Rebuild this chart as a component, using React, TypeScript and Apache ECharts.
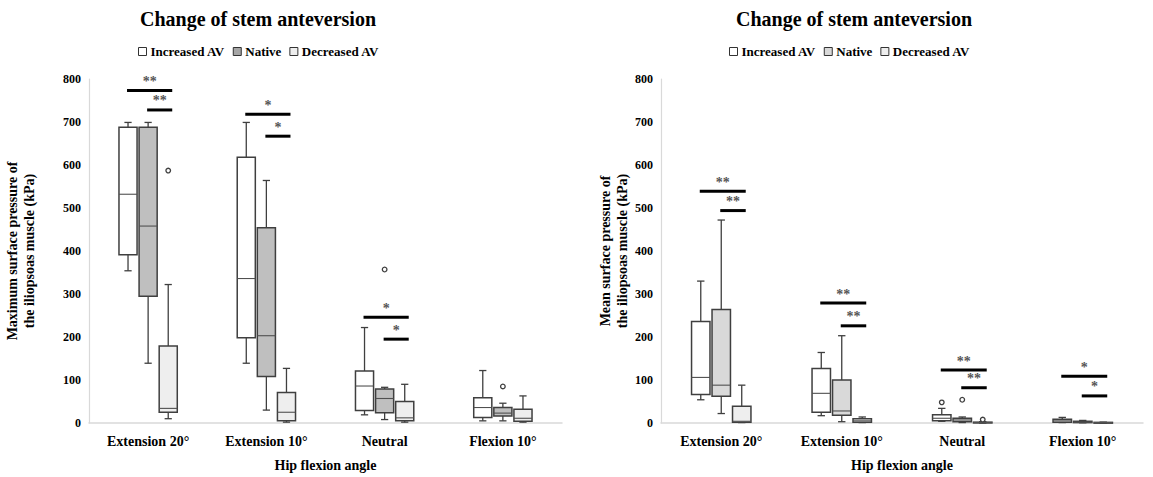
import React, { useEffect, useRef } from "react";
import * as echarts from "echarts";

const categories = ["Extension 20°", "Extension 10°", "Neutral", "Flexion 10°"];
const groups = ["Increased AV", "Native", "Decreased AV"];
const yTickMax = 800;
const yTickStep = 100;

// [min, Q1, median, Q3, max] per category
const maxIncreased = [[354, 391, 532, 688, 699], [139, 198, 336, 618, 699], [19, 29, 86, 121, 222], [5, 13, 36, 59, 122]];
const maxNative = [[139, 295, 458, 688, 699], [30, 108, 203, 454, 564], [8, 24, 57, 79, 83], [5, 16, 23, 36, 46]];
const maxDecreased = [[10, 25, 34, 179, 322], [2, 5, 25, 71, 127], [2, 5, 12, 50, 90], [2, 4, 11, 32, 63]];
// [category, group, value]
const maxOutliers = [[0, 2, 587], [2, 1, 357], [3, 1, 85]];
// [category, fromGroup, toGroup, level, label]
const maxSignif = [[0, 0, 2, 773, "**"], [0, 1, 2, 728, "**"], [1, 0, 2, 718, "*"], [1, 1, 2, 667, "*"], [2, 0, 2, 246, "*"], [2, 1, 2, 195, "*"]];

const meanIncreased = [[54, 66, 106, 236, 330], [17, 25, 69, 127, 164], [4, 5, 11, 19, 34], [1, 2, 5, 9, 13]];
const meanNative = [[22, 62, 88, 264, 472], [3, 18, 28, 100, 203], [1, 3, 7, 11, 14], [0.5, 1, 2, 4, 6]];
const meanDecreased = [[1, 2, 4, 39, 88], [1, 2, 5, 10, 14], [0, 0.5, 1, 2, 3], [0, 0.5, 1, 1.5, 2]];
const meanOutliers = [[2, 0, 48], [2, 1, 54], [2, 2, 8]];
const meanSignif = [[0, 0, 2, 539, "**"], [0, 1, 2, 494, "**"], [1, 0, 2, 279, "**"], [1, 1, 2, 226, "**"], [2, 0, 2, 123, "**"], [2, 1, 2, 82, "**"], [3, 0, 2, 109, "*"], [3, 1, 2, 63, "*"]];

const SERIF = '"Liberation Serif", "Times New Roman", serif';
const EDGE = "#3f3f3f";
const leftFills = ["#ffffff", "#bfbfbf", "#eeeeee"];
const rightFills = ["#ffffff", "#d9d9d9", "#eeeeee"];

const OFFSET = 0.17;
const BOXW = 0.153;

function groupX(api: any, cat: number, g: number) {
  const band = api.size([1, 0])[0];
  return api.coord([cat, 0])[0] + (g - 1) * band * OFFSET;
}

function boxSeries(name: string, data: number[][], g: number, fill: string, axis: number) {
  return {
    type: "custom",
    name,
    xAxisIndex: axis,
    yAxisIndex: axis,
    itemStyle: { color: fill, borderColor: EDGE },
    encode: { x: 0, y: [1, 2, 3, 4, 5] },
    data: data.map((d, i) => [i, ...d]),
    renderItem: (params: any, api: any) => {
      const cat = api.value(0);
      const band = api.size([1, 0])[0];
      const cx = groupX(api, cat, g);
      const w = band * BOXW;
      const y = (v: number) => api.coord([cat, v])[1];
      const pMin = y(api.value(1));
      const pQ1 = y(api.value(2));
      const pMed = y(api.value(3));
      const pQ3 = y(api.value(4));
      const pMax = y(api.value(5));
      const cap = w * 0.2;
      const ls = { stroke: EDGE, lineWidth: 1.3 };
      return {
        type: "group",
        children: [
          { type: "line", shape: { x1: cx, y1: pMax, x2: cx, y2: pQ3 }, style: ls },
          { type: "line", shape: { x1: cx, y1: pQ1, x2: cx, y2: pMin }, style: ls },
          { type: "line", shape: { x1: cx - cap, y1: pMax, x2: cx + cap, y2: pMax }, style: ls },
          { type: "line", shape: { x1: cx - cap, y1: pMin, x2: cx + cap, y2: pMin }, style: ls },
          {
            type: "rect",
            shape: { x: cx - w / 2, y: pQ3, width: w, height: Math.max(pQ1 - pQ3, 0.8) },
            style: { fill, stroke: EDGE, lineWidth: 1.5 },
          },
          { type: "line", shape: { x1: cx - w / 2, y1: pMed, x2: cx + w / 2, y2: pMed }, style: { stroke: "#505050", lineWidth: 1.1 } },
        ],
      };
    },
  };
}

function outlierSeries(data: number[][], axis: number) {
  return {
    type: "custom",
    xAxisIndex: axis,
    yAxisIndex: axis,
    itemStyle: { color: "#ffffff" },
    encode: { x: 0, y: 2 },
    data,
    renderItem: (params: any, api: any) => {
      const cat = api.value(0);
      const cx = groupX(api, cat, api.value(1));
      const cy = api.coord([cat, api.value(2)])[1];
      return { type: "circle", shape: { cx, cy, r: 2.3 }, style: { fill: "#fff", stroke: EDGE, lineWidth: 1.3 } };
    },
  };
}

function signifSeries(data: (number | string)[][], axis: number) {
  return {
    type: "custom",
    xAxisIndex: axis,
    yAxisIndex: axis,
    itemStyle: { color: "#444444" },
    encode: { x: 0, y: 3 },
    data,
    renderItem: (params: any, api: any) => {
      const cat = api.value(0) as number;
      const x1 = groupX(api, cat, api.value(1) as number) - 1;
      const x2 = groupX(api, cat, api.value(2) as number) + 4;
      const yy = api.coord([cat, api.value(3)])[1];
      const label = data[params.dataIndex][4] as string;
      return {
        type: "group",
        children: [
          { type: "line", shape: { x1, y1: yy, x2, y2: yy }, style: { stroke: "#000", lineWidth: 3 } },
          {
            type: "text",
            x: (x1 + x2) / 2,
            y: yy - 2,
            style: {
              text: label,
              align: "center",
              verticalAlign: "bottom",
              fill: "#555555",
              fontFamily: SERIF,
              fontWeight: "bold",
              fontSize: 14,
            },
          },
        ],
      };
    },
  };
}

function legendFor(left: number, fills: string[]) {
  return {
    left,
    top: 45,
    padding: 0,
    itemWidth: 8,
    itemHeight: 8,
    itemGap: 8,
    icon: "rect",
    selectedMode: false,
    textStyle: { fontFamily: SERIF, fontWeight: "bold", fontSize: 13, color: "#000", padding: [0, 0, 0, -1] },
    data: groups.map((g, i) => ({ name: g, itemStyle: { color: i === 1 && fills === leftFills ? "#a6a6a6" : fills[i], borderColor: "#333", borderWidth: 1 } })),
  };
}

function xAxisFor(grid: number) {
  return {
    type: "category",
    gridIndex: grid,
    data: categories,
    name: "Hip flexion angle",
    nameLocation: "middle",
    nameGap: 35,
    nameTextStyle: { fontFamily: SERIF, fontWeight: "bold", fontSize: 14, color: "#000", verticalAlign: "top" },
    axisLine: { lineStyle: { color: "#d9d9d9", width: 1.5 } },
    axisTick: { show: false },
    axisLabel: { fontFamily: SERIF, fontWeight: "bold", fontSize: 14, color: "#000", margin: 11 },
  };
}

function yAxisFor(grid: number, name: string, gap: number) {
  return {
    type: "value",
    gridIndex: grid,
    min: 0,
    max: yTickMax,
    interval: yTickStep,
    name,
    nameLocation: "middle",
    nameGap: gap,
    nameTextStyle: { fontFamily: SERIF, fontWeight: "bold", fontSize: 14, color: "#000", lineHeight: 17 },
    axisLine: { show: true, lineStyle: { color: "#d9d9d9", width: 1.2 } },
    axisTick: { show: false },
    splitLine: { show: false },
    axisLabel: { fontFamily: SERIF, fontWeight: "bold", fontSize: 12, color: "#000", margin: 8 },
  };
}

export default function App() {
  const ref = useRef<HTMLDivElement>(null);
  useEffect(() => {
    if (!ref.current) return;
    const chart = echarts.init(ref.current, undefined, { renderer: "svg" });
    chart.setOption({
      animation: false,
      backgroundColor: "#fff",
      graphic: [
        {
          type: "text",
          x: 258,
          y: 19,
          style: { text: "Change of stem anteversion", align: "center", verticalAlign: "middle", font: `bold 20px ${SERIF}`, fill: "#000" },
        },
        {
          type: "text",
          x: 854,
          y: 19,
          style: { text: "Change of stem anteversion", align: "center", verticalAlign: "middle", font: `bold 20px ${SERIF}`, fill: "#000" },
        },
      ],
      legend: [legendFor(138, leftFills), legendFor(729, rightFills)],
      grid: [
        { left: 89, width: 473, top: 79, height: 344.5 },
        { left: 661, width: 482, top: 79, height: 344.5 },
      ],
      xAxis: [xAxisFor(0), xAxisFor(1)],
      yAxis: [
        yAxisFor(0, "Maximum surface pressure of\nthe iliopsoas muscle (kPa)", 51),
        yAxisFor(1, "Mean surface pressure of\nthe iliopsoas muscle (kPa)", 28),
      ],
      series: [
        boxSeries(groups[0], maxIncreased, 0, leftFills[0], 0),
        boxSeries(groups[1], maxNative, 1, leftFills[1], 0),
        boxSeries(groups[2], maxDecreased, 2, leftFills[2], 0),
        outlierSeries(maxOutliers, 0),
        signifSeries(maxSignif, 0),
        boxSeries(groups[0], meanIncreased, 0, rightFills[0], 1),
        boxSeries(groups[1], meanNative, 1, rightFills[1], 1),
        boxSeries(groups[2], meanDecreased, 2, rightFills[2], 1),
        outlierSeries(meanOutliers, 1),
        signifSeries(meanSignif, 1),
      ],
    });
    return () => chart.dispose();
  }, []);
  return <div ref={ref} style={{ width: 1153, height: 477, position: "absolute", left: 0, top: 0 }} />;
}
